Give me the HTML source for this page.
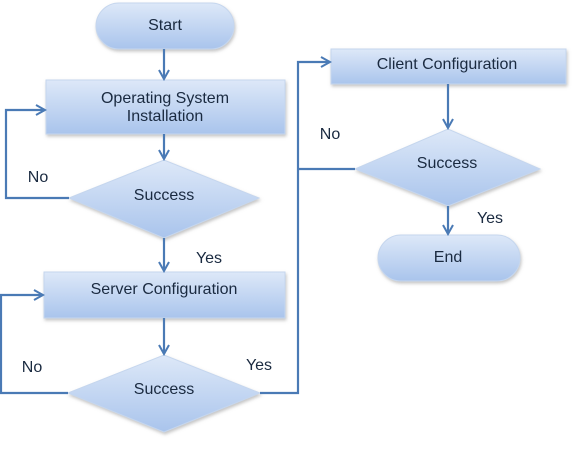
<!DOCTYPE html>
<html><head><style>body{margin:0;background:#fff}</style></head><body>
<svg width="575" height="444" xmlns="http://www.w3.org/2000/svg" font-family="Liberation Sans, sans-serif">
<defs>
<linearGradient id="g" x1="0" y1="0" x2="0" y2="1"><stop offset="0" stop-color="#dde8f8"/><stop offset="1" stop-color="#a9c4ec"/></linearGradient>
<filter id="s" x="-10%" y="-10%" width="130%" height="140%"><feDropShadow dx="1" dy="2" stdDeviation="1.5" flood-color="#888" flood-opacity="0.5"/></filter>
<marker id="a" markerWidth="12" markerHeight="12" refX="10" refY="6" orient="auto" markerUnits="userSpaceOnUse"><path d="M1,1 L10,6 L1,11" fill="none" stroke="#4a7ab5" stroke-width="2"/></marker>
</defs>
<g fill="url(#g)" stroke="#c5d6ee" stroke-width="1" filter="url(#s)">
<rect x="96" y="3" width="138" height="46" rx="23"/>
<rect x="46" y="80" width="239" height="54"/>
<polygon points="69,198 164,160 259,198 164,238"/>
<rect x="44" y="272" width="241" height="46"/>
<polygon points="68,393 164,355 260,393 164,432"/>
<rect x="331" y="49" width="235" height="35"/>
<polygon points="355,169 448,129 540,169 448,206"/>
<rect x="378" y="235" width="142" height="46" rx="23"/>
</g>
<g fill="none" stroke="#4a7ab5" stroke-width="2.2">
<line x1="164" y1="49" x2="164" y2="79" marker-end="url(#a)"/>
<line x1="164" y1="134" x2="164" y2="159" marker-end="url(#a)"/>
<polyline points="69,198 6,198 6,110 45,110" marker-end="url(#a)"/>
<line x1="164" y1="238" x2="164" y2="271" marker-end="url(#a)"/>
<line x1="164" y1="318" x2="164" y2="354" marker-end="url(#a)"/>
<polyline points="68,393 1,393 1,295 43,295" marker-end="url(#a)"/>
<polyline points="260,393 298,393 298,62 330,62" marker-end="url(#a)"/>
<line x1="355" y1="169" x2="298" y2="169"/>
<line x1="448" y1="84" x2="448" y2="128" marker-end="url(#a)"/>
<line x1="448" y1="206" x2="448" y2="234" marker-end="url(#a)"/>
</g>
<g fill="#1a2a40" font-size="16" text-anchor="middle">
<text x="165" y="30">Start</text>
<text x="165" y="103">Operating System</text>
<text x="165" y="121">Installation</text>
<text x="164" y="200">Success</text>
<text x="164" y="294">Server Configuration</text>
<text x="164" y="394">Success</text>
<text x="447" y="69">Client Configuration</text>
<text x="447" y="168">Success</text>
<text x="448" y="262">End</text>
<text x="38" y="182">No</text>
<text x="209" y="263">Yes</text>
<text x="32" y="372">No</text>
<text x="259" y="370">Yes</text>
<text x="330" y="139">No</text>
<text x="490" y="223">Yes</text>
</g>
</svg>
</body></html>
